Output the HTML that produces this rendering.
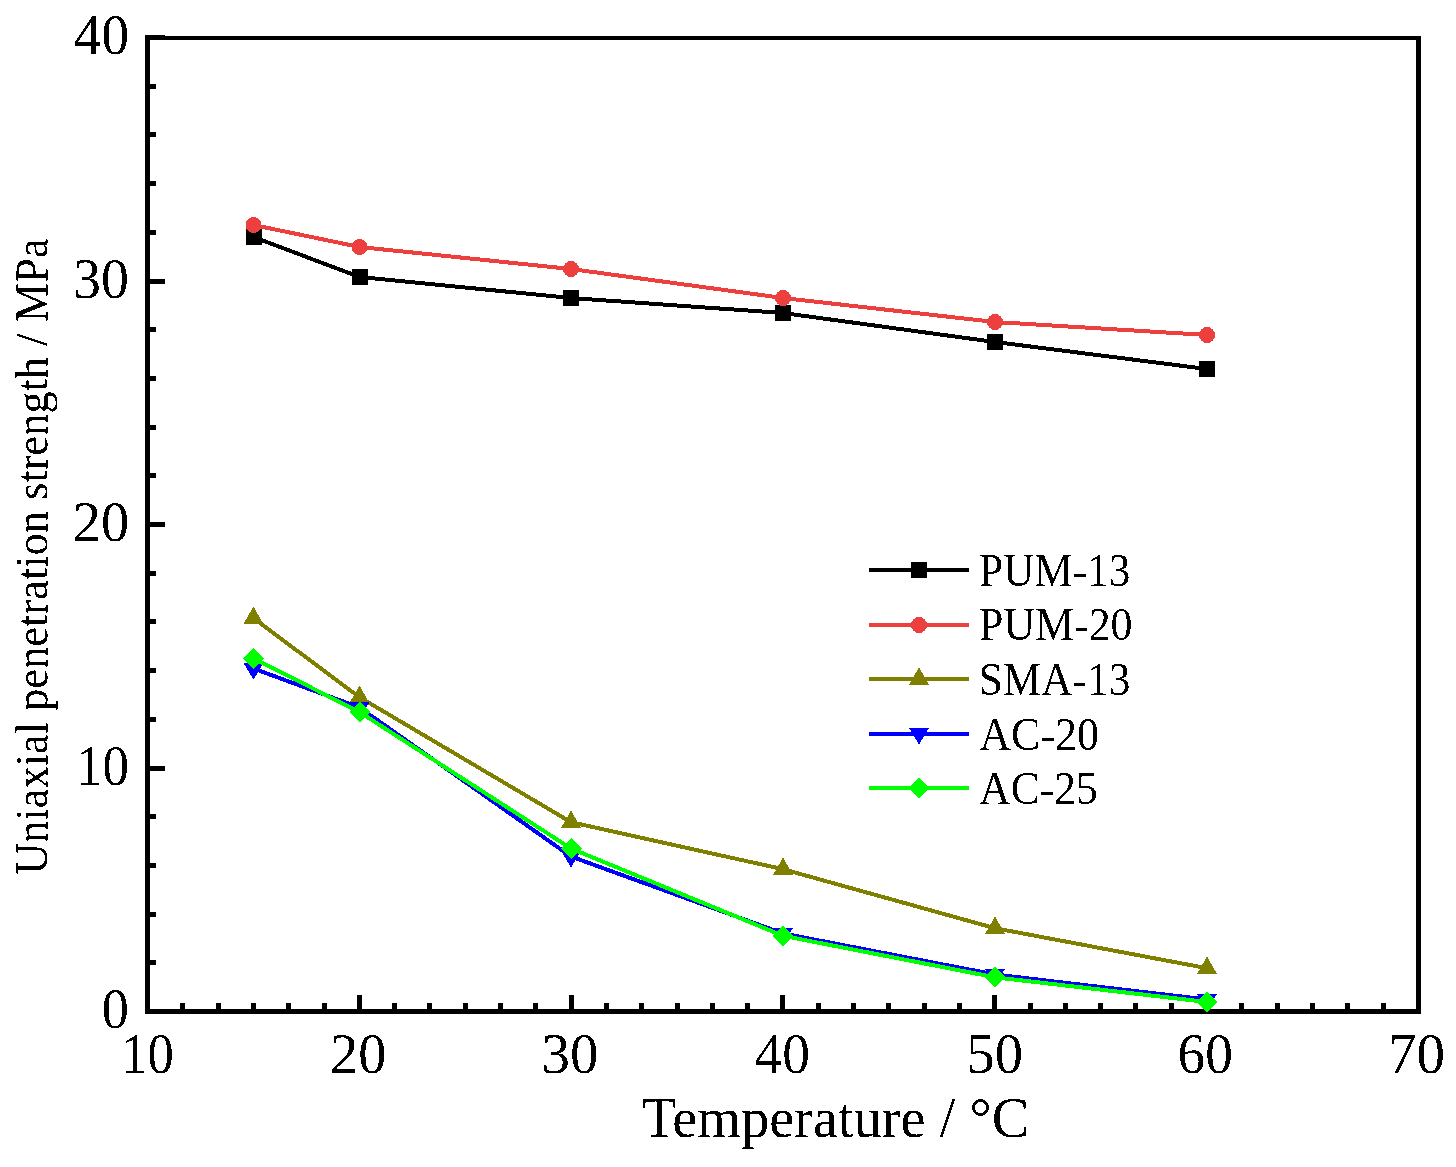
<!DOCTYPE html>
<html><head><meta charset="utf-8"><style>
html,body{margin:0;padding:0;background:#fff;width:1456px;height:1167px;overflow:hidden}
svg{display:block}
text{font-family:"Liberation Serif",serif}
</style></head><body>
<svg width="1456" height="1167" viewBox="0 0 1456 1167">
<defs><filter id="bin" x="0" y="0" width="1456" height="1167" filterUnits="userSpaceOnUse"><feComponentTransfer><feFuncA type="discrete" tableValues="0 1"/></feComponentTransfer></filter></defs>
<rect width="1456" height="1167" fill="#fff"/>
<g fill="#000">
<rect x="145" y="36" width="1276" height="4"/>
<rect x="145" y="1009" width="1276" height="5"/>
<rect x="145" y="35" width="5" height="979"/>
<rect x="1416" y="36" width="5" height="978"/>
<rect x="150" y="1009" width="15" height="5"/>
<rect x="150" y="766" width="15" height="5"/>
<rect x="150" y="522" width="15" height="5"/>
<rect x="150" y="279" width="15" height="5"/>
<rect x="150" y="35" width="15" height="5"/>
<rect x="150" y="960" width="6" height="5"/>
<rect x="150" y="912" width="6" height="5"/>
<rect x="150" y="863" width="6" height="5"/>
<rect x="150" y="814" width="6" height="5"/>
<rect x="150" y="717" width="6" height="5"/>
<rect x="150" y="668" width="6" height="5"/>
<rect x="150" y="619" width="6" height="5"/>
<rect x="150" y="571" width="6" height="5"/>
<rect x="150" y="473" width="6" height="5"/>
<rect x="150" y="425" width="6" height="5"/>
<rect x="150" y="376" width="6" height="5"/>
<rect x="150" y="327" width="6" height="5"/>
<rect x="150" y="230" width="6" height="5"/>
<rect x="150" y="181" width="6" height="5"/>
<rect x="150" y="132" width="6" height="5"/>
<rect x="150" y="84" width="6" height="5"/>
<rect x="145" y="995" width="5" height="14"/>
<rect x="357" y="995" width="5" height="14"/>
<rect x="569" y="995" width="5" height="14"/>
<rect x="780" y="995" width="5" height="14"/>
<rect x="992" y="995" width="5" height="14"/>
<rect x="1204" y="995" width="5" height="14"/>
<rect x="1416" y="995" width="5" height="14"/>
<rect x="180" y="1003" width="5" height="6"/>
<rect x="216" y="1003" width="5" height="6"/>
<rect x="251" y="1003" width="5" height="6"/>
<rect x="286" y="1003" width="5" height="6"/>
<rect x="322" y="1003" width="5" height="6"/>
<rect x="392" y="1003" width="5" height="6"/>
<rect x="427" y="1003" width="5" height="6"/>
<rect x="463" y="1003" width="5" height="6"/>
<rect x="498" y="1003" width="5" height="6"/>
<rect x="533" y="1003" width="5" height="6"/>
<rect x="604" y="1003" width="5" height="6"/>
<rect x="639" y="1003" width="5" height="6"/>
<rect x="675" y="1003" width="5" height="6"/>
<rect x="710" y="1003" width="5" height="6"/>
<rect x="745" y="1003" width="5" height="6"/>
<rect x="816" y="1003" width="5" height="6"/>
<rect x="851" y="1003" width="5" height="6"/>
<rect x="886" y="1003" width="5" height="6"/>
<rect x="922" y="1003" width="5" height="6"/>
<rect x="957" y="1003" width="5" height="6"/>
<rect x="1028" y="1003" width="5" height="6"/>
<rect x="1063" y="1003" width="5" height="6"/>
<rect x="1098" y="1003" width="5" height="6"/>
<rect x="1133" y="1003" width="5" height="6"/>
<rect x="1169" y="1003" width="5" height="6"/>
<rect x="1239" y="1003" width="5" height="6"/>
<rect x="1275" y="1003" width="5" height="6"/>
<rect x="1310" y="1003" width="5" height="6"/>
<rect x="1345" y="1003" width="5" height="6"/>
<rect x="1381" y="1003" width="5" height="6"/>
</g>
<g font-family="Liberation Serif" fill="#000" filter="url(#bin)">
<text transform="translate(73.81,54.10) scale(0.9860,1)" font-size="56">40</text>
<text transform="translate(73.11,297.60) scale(0.9980,1)" font-size="56">30</text>
<text transform="translate(72.79,541.10) scale(1.0050,1)" font-size="56">20</text>
<text transform="translate(75.97,784.60) scale(0.9461,1)" font-size="56">10</text>
<text transform="translate(101.81,1028.10) scale(0.9688,1)" font-size="56">0</text>
<text transform="translate(121.20,1073.00) scale(0.9408,1)" font-size="56">10</text>
<text transform="translate(329.99,1073.00) scale(1.0058,1)" font-size="56">20</text>
<text transform="translate(541.55,1073.00) scale(1.0176,1)" font-size="56">30</text>
<text transform="translate(754.51,1073.00) scale(0.9906,1)" font-size="56">40</text>
<text transform="translate(966.37,1073.00) scale(1.0098,1)" font-size="56">50</text>
<text transform="translate(1177.62,1073.00) scale(0.9885,1)" font-size="56">60</text>
<text transform="translate(1387.93,1073.00) scale(1.0180,1)" font-size="56">70</text>
<text transform="translate(641.90,1137.00) scale(1.0000,1)" font-size="56.3">Temperature / °C</text>
<text transform="translate(47.5,874.78) rotate(-90) scale(0.9763,1)" font-size="45.5">Uniaxial penetration strength / MPa</text>
</g>
<g shape-rendering="crispEdges">
<polyline points="253.5,237.0 359.5,277.0 571.0,298.0 783.0,313.0 995.0,342.0 1207.0,369.0" fill="none" stroke="#000" stroke-width="4" stroke-linejoin="round"/>
<rect x="245.5" y="229.0" width="16" height="16" fill="#000"/>
<rect x="351.5" y="269.0" width="16" height="16" fill="#000"/>
<rect x="563.0" y="290.0" width="16" height="16" fill="#000"/>
<rect x="775.0" y="305.0" width="16" height="16" fill="#000"/>
<rect x="987.0" y="334.0" width="16" height="16" fill="#000"/>
<rect x="1199.0" y="361.0" width="16" height="16" fill="#000"/>
<polyline points="253.5,225.0 359.5,247.0 571.0,269.0 783.0,298.0 995.0,322.0 1207.0,335.0" fill="none" stroke="#EE3F3F" stroke-width="4" stroke-linejoin="round"/>
<circle cx="253.5" cy="225.0" r="8.0" fill="#EE3F3F"/>
<circle cx="359.5" cy="247.0" r="8.0" fill="#EE3F3F"/>
<circle cx="571.0" cy="269.0" r="8.0" fill="#EE3F3F"/>
<circle cx="783.0" cy="298.0" r="8.0" fill="#EE3F3F"/>
<circle cx="995.0" cy="322.0" r="8.0" fill="#EE3F3F"/>
<circle cx="1207.0" cy="335.0" r="8.0" fill="#EE3F3F"/>
<polyline points="253.5,618.2 359.5,697.2 571.0,822.2 783.0,869.2 995.0,928.2 1207.0,968.2" fill="none" stroke="#808000" stroke-width="4" stroke-linejoin="round"/>
<polygon points="253.5,606.5 263.5,624.0 243.5,624.0" fill="#808000"/>
<polygon points="359.5,685.5 369.5,703.0 349.5,703.0" fill="#808000"/>
<polygon points="571.0,810.5 581.0,828.0 561.0,828.0" fill="#808000"/>
<polygon points="783.0,857.5 793.0,875.0 773.0,875.0" fill="#808000"/>
<polygon points="995.0,916.5 1005.0,934.0 985.0,934.0" fill="#808000"/>
<polygon points="1207.0,956.5 1217.0,974.0 1197.0,974.0" fill="#808000"/>
<polyline points="253.5,668.5 359.5,707.5 571.0,856.5 783.0,933.5 995.0,974.5 1207.0,999.5" fill="none" stroke="#0000FF" stroke-width="4" stroke-linejoin="round"/>
<polygon points="243.5,663.0 263.5,663.0 253.5,679.5" fill="#0000FF"/>
<polygon points="349.5,702.0 369.5,702.0 359.5,718.5" fill="#0000FF"/>
<polygon points="561.0,851.0 581.0,851.0 571.0,867.5" fill="#0000FF"/>
<polygon points="773.0,928.0 793.0,928.0 783.0,944.5" fill="#0000FF"/>
<polygon points="985.0,969.0 1005.0,969.0 995.0,985.5" fill="#0000FF"/>
<polygon points="1197.0,994.0 1217.0,994.0 1207.0,1010.5" fill="#0000FF"/>
<polyline points="253.5,658.4 359.5,712.0 571.0,848.5 783.0,935.8 995.0,977.3 1207.0,1002.0" fill="none" stroke="#00FF00" stroke-width="4" stroke-linejoin="round"/>
<polygon points="253.5,647.9 264.0,658.4 253.5,668.9 243.0,658.4" fill="#00FF00"/>
<polygon points="359.5,701.5 370.0,712.0 359.5,722.5 349.0,712.0" fill="#00FF00"/>
<polygon points="571.0,838.0 581.5,848.5 571.0,859.0 560.5,848.5" fill="#00FF00"/>
<polygon points="783.0,925.3 793.5,935.8 783.0,946.3 772.5,935.8" fill="#00FF00"/>
<polygon points="995.0,966.8 1005.5,977.3 995.0,987.8 984.5,977.3" fill="#00FF00"/>
<polygon points="1207.0,991.5 1217.5,1002.0 1207.0,1012.5 1196.5,1002.0" fill="#00FF00"/>
</g>
<g shape-rendering="crispEdges">
<rect x="869" y="568" width="100" height="4" fill="#000"/>
<rect x="911.0" y="562.0" width="16" height="16" fill="#000"/>
<rect x="869" y="623" width="100" height="4" fill="#EE3F3F"/>
<circle cx="919.0" cy="625.0" r="8.0" fill="#EE3F3F"/>
<rect x="869" y="677" width="100" height="4" fill="#808000"/>
<polygon points="919.0,667.3 929.0,684.8 909.0,684.8" fill="#808000"/>
<rect x="869" y="732" width="100" height="4" fill="#0000FF"/>
<polygon points="909.0,728.0 929.0,728.0 919.0,744.5" fill="#0000FF"/>
<rect x="869" y="786" width="100" height="4" fill="#00FF00"/>
<polygon points="919.0,777.5 929.5,788.0 919.0,798.5 908.5,788.0" fill="#00FF00"/>
</g>
<g font-family="Liberation Serif" fill="#000" filter="url(#bin)">
<text transform="translate(979.05,585.50) scale(0.9497,1)" font-size="45.5">PUM-13</text>
<text transform="translate(979.04,640.00) scale(0.9637,1)" font-size="45.5">PUM-20</text>
<text transform="translate(978.74,694.50) scale(0.9523,1)" font-size="45.5">SMA-13</text>
<text transform="translate(979.30,749.50) scale(0.9672,1)" font-size="45.5">AC-20</text>
<text transform="translate(979.30,803.50) scale(0.9557,1)" font-size="45.5">AC-25</text>
</g>
</svg>
</body></html>
